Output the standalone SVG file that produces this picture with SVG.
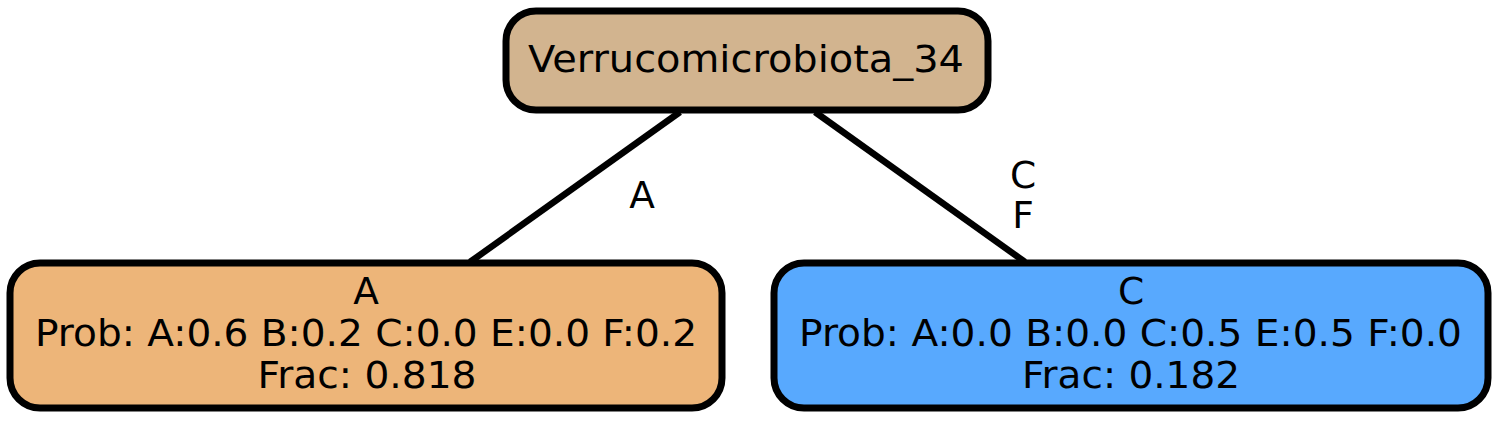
<svg xmlns="http://www.w3.org/2000/svg" width="1500" height="421" viewBox="0 0 1500 421">
<style>
.n{stroke:#000;stroke-width:7}
.e{stroke:#000;stroke-width:6.5;fill:none}
text{font-family:"DejaVu Sans",sans-serif;font-size:37.5px;fill:#000;text-anchor:middle}
</style>
<rect width="1500" height="421" fill="#fff"/>
<g id="edges">
<line class="e" x1="680" y1="112" x2="470" y2="262"/>
<line class="e" x1="815" y1="112" x2="1025" y2="262"/>
<text x="642" y="208">A</text>
<text x="1023" y="188">C</text>
<text x="1023" y="228">F</text>
</g>
<g id="root">
<rect class="n" x="506" y="11" width="482" height="99" rx="30" fill="#D2B48F"/>
<text x="746" y="72" textLength="436" lengthAdjust="spacingAndGlyphs">Verrucomicrobiota_34</text>
</g>
<g id="nodeA">
<rect class="n" x="10" y="263" width="712" height="145" rx="30" fill="#EDB579"/>
<text x="366" y="304">A</text>
<text x="366" y="346" textLength="662" lengthAdjust="spacingAndGlyphs">Prob: A:0.6 B:0.2 C:0.0 E:0.0 F:0.2</text>
<text x="367" y="388" textLength="219" lengthAdjust="spacingAndGlyphs">Frac: 0.818</text>
</g>
<g id="nodeC">
<rect class="n" x="774" y="263" width="714" height="145" rx="30" fill="#58A9FE"/>
<text x="1131" y="304">C</text>
<text x="1130.5" y="346" textLength="663" lengthAdjust="spacingAndGlyphs">Prob: A:0.0 B:0.0 C:0.5 E:0.5 F:0.0</text>
<text x="1131" y="388" textLength="218" lengthAdjust="spacingAndGlyphs">Frac: 0.182</text>
</g>
</svg>
